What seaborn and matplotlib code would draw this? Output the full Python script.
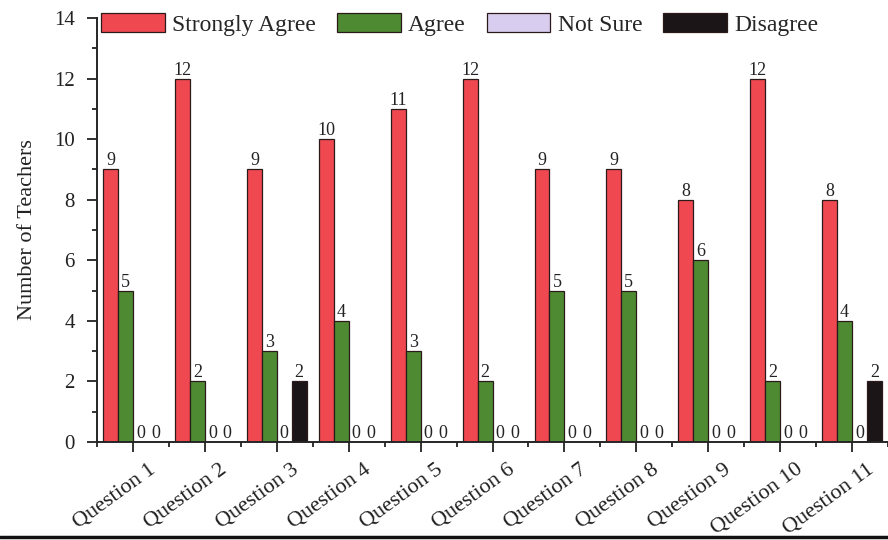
import numpy as np
import pandas as pd
import matplotlib
matplotlib.use("Agg")
import matplotlib.pyplot as plt
import matplotlib.transforms as mtransforms
from matplotlib.lines import Line2D
from matplotlib.ticker import MultipleLocator, FixedLocator
import seaborn as sns

questions = ["Question %d" % i for i in range(1, 12)]
responses = ["Strongly Agree", "Agree", "Not Sure", "Disagree"]
strongly_agree = [9, 12, 9, 10, 11, 12, 9, 9, 8, 12, 8]
agree = [5, 2, 3, 4, 3, 2, 5, 5, 6, 2, 4]
not_sure = [0, 0, 0, 0, 0, 0, 0, 0, 0, 0, 0]
disagree = [0, 0, 2, 0, 0, 0, 0, 0, 0, 0, 2]
colors = ["#EF4850", "#4E8A32", "#D8CDEE", "#1C1517"]

rows = []
for resp, vals in zip(responses, [strongly_agree, agree, not_sure, disagree]):
    for q, v in zip(questions, vals):
        rows.append({"Question": q, "Response": resp, "Teachers": v})
df = pd.DataFrame(rows)

sns.set_style("ticks")
plt.rcParams["font.family"] = ["Liberation Serif", "DejaVu Serif"]
plt.rcParams["axes.linewidth"] = 1.4

fig = plt.figure(figsize=(8.88, 5.4), dpi=100)
ax = fig.add_axes([97 / 888, 1 - 442 / 540, 791 / 888, (442 - 18) / 540])

sns.barplot(data=df, x="Question", y="Teachers", hue="Response",
            hue_order=responses, palette=colors, width=0.83,
            edgecolor="#2a1a1a", linewidth=0.9, saturation=1, ax=ax)

for cont in ax.containers:
    ax.bar_label(cont, fmt="%d", padding=0, fontsize=13, color="#222222")

ax.set_xlim(-0.5, 10.5)
ax.set_ylim(0, 14)
ax.yaxis.set_major_locator(MultipleLocator(2))
ax.yaxis.set_minor_locator(MultipleLocator(1))
ax.xaxis.set_minor_locator(FixedLocator(np.arange(-0.5, 11, 1)))
ax.tick_params(axis="both", which="major", direction="out", length=7, width=1.3,
               color="#222222")
ax.tick_params(axis="both", which="minor", direction="out", length=3.5, width=1.3,
               color="#222222")
ax.tick_params(axis="y", labelsize=15, pad=9, labelcolor="#222222")
ax.tick_params(axis="x", labelsize=16, pad=6, labelcolor="#222222")

offset = mtransforms.ScaledTranslation(15 / 100, 0, fig.dpi_scale_trans)
for lbl in ax.get_xticklabels():
    lbl.set_rotation(36)
    lbl.set_ha("right")
    lbl.set_rotation_mode("anchor")
    lbl.set_transform(lbl.get_transform() + offset)

ax.set_xlabel("")
ax.set_ylabel("Number of Teachers", fontsize=16, labelpad=12, color="#222222")
sns.despine(ax=ax)

ax.legend(loc="upper left", bbox_to_anchor=(0.005, 1.012), ncol=4, frameon=False,
          fontsize=17, handlelength=2.7, handleheight=0.85, handletextpad=0.3,
          columnspacing=0.9, borderaxespad=0, borderpad=0)

fig.add_artist(Line2D([0, 1], [0.006, 0.006], transform=fig.transFigure,
                      color="#111111", linewidth=2.5))

fig.savefig("out.png", dpi=100)
